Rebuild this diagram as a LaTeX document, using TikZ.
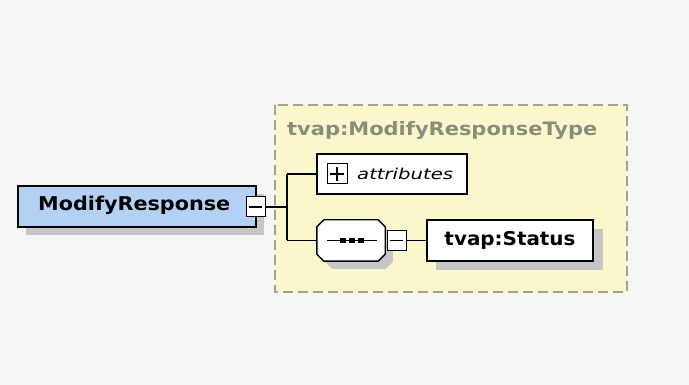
\documentclass[tikz,border=0pt]{standalone}
\usepackage{fontspec}
\setmainfont{DejaVu Sans}
\usetikzlibrary{calc}
\definecolor{bgc}{HTML}{F4F7F4}
\definecolor{blueF}{HTML}{B3D1F5}
\definecolor{yelF}{HTML}{FAF7CD}
\definecolor{dashC}{HTML}{A3A392}
\definecolor{titleC}{HTML}{8C8C7C}
\definecolor{shadC}{HTML}{C6C6C6}
\newcommand\fitw[2]{\resizebox{#1}{\height}{#2}}
\tikzset{
  elem/.style={draw=black, line width=1.4pt, fill=white, inner sep=0pt},
  conn/.style={draw=black, line width=1.3pt},
  tog/.style={draw=black, line width=1pt, fill=white, minimum width=19pt, minimum height=20pt, inner sep=0pt},
  shad/.style={fill=shadC, draw=none},
}
\begin{document}
\begin{tikzpicture}[x=1pt,y=-1pt]
\fill[bgc] (0,0) rectangle (689,385);
\useasboundingbox (0,0) rectangle (689,385);
% complex type frame
\draw[fill=yelF, draw=dashC, line width=1.2pt, dash pattern=on 10pt off 5pt] (275,105) rectangle (627,292);
\node[anchor=west, text=titleC, font=\fontsize{18.5}{18}\selectfont\bfseries, inner sep=0pt] (title) at (287,130) {\fitw{310pt}{tvap:ModifyResponseType}};
% ModifyResponse
\fill[shad] (26,194) rectangle (264,235);
\node[elem, fill=blueF, minimum width=238pt, minimum height=41pt] (mr) at (137,206.5) {};
\node[font=\fontsize{19}{19}\selectfont\bfseries, inner sep=0pt, anchor=west] (mrt) at (38,205) {\fitw{192pt}{ModifyResponse}};
\node[tog] (t1) at (255.5,207) {};
\draw[line width=1.1pt] ($(t1.center)+(-6.5,0)$) -- ($(t1.center)+(6.5,0)$);
% junction
\coordinate (j) at (287,207);
\coordinate (jt) at (287,174);
\coordinate (jb) at (287,240.5);
% attributes
\node[elem, minimum width=150pt, minimum height=40pt] (attr) at (392,174) {};
\node[draw=black, line width=1pt, fill=white, minimum width=20pt, minimum height=20pt, inner sep=0pt] (plus) at (337,174) {};
\draw[line width=1.1pt] ($(plus.center)+(-7,0)$) -- ($(plus.center)+(7,0)$) ($(plus.center)+(0,-7)$) -- ($(plus.center)+(0,7)$);
\node[anchor=west, font=\fontsize{15}{15}\selectfont\itshape, inner sep=0pt] (attrt) at (357,174) {\fitw{96pt}{attributes}};
% sequence
\node[minimum width=68pt, minimum height=41pt, inner sep=0pt] (seq) at (351,240.5) {};
\fill[shad] ($(seq.north west)+(8,8)$) ++(7,0) -- ++(54,0) -- ++(7,7) -- ++(0,27) -- ++(-7,7) -- ++(-54,0) -- ++(-7,-7) -- ++(0,-27) -- cycle;
\draw[elem] ($(seq.north west)+(7,0)$) -- ($(seq.north east)+(-7,0)$) -- ($(seq.north east)+(0,7)$) -- ($(seq.south east)+(0,-7)$) -- ($(seq.south east)+(-7,0)$) -- ($(seq.south west)+(7,0)$) -- ($(seq.south west)+(0,-7)$) -- ($(seq.north west)+(0,7)$) -- cycle;
\draw[line width=1.1pt] (327,240.5) -- (377,240.5);
\foreach \sx in {343,352,361} \fill (\sx-2.8,237.7) rectangle (\sx+2.8,243.3);
\node[tog] (t2) at (396.5,240.5) {};
\draw[line width=1.1pt] ($(t2.center)+(-6.5,0)$) -- ($(t2.center)+(6.5,0)$);
% Status
\fill[shad] (436,229) rectangle (603,270);
\node[elem, minimum width=166pt, minimum height=41pt] (status) at (510,240.5) {};
\node[font=\fontsize{19}{19}\selectfont\bfseries, inner sep=0pt] (statust) at (510,240.5) {\fitw{131pt}{tvap:Status}};
% connectors
\draw[conn] (t1.east) -- (j);
\draw[conn] (jt) -- (jb);
\draw[conn] (jt) -- (attr.west);
\draw[conn] (jb) -- (seq.west);
\draw[conn] (t2.east) -- (status.west);
\end{tikzpicture}
\end{document}
